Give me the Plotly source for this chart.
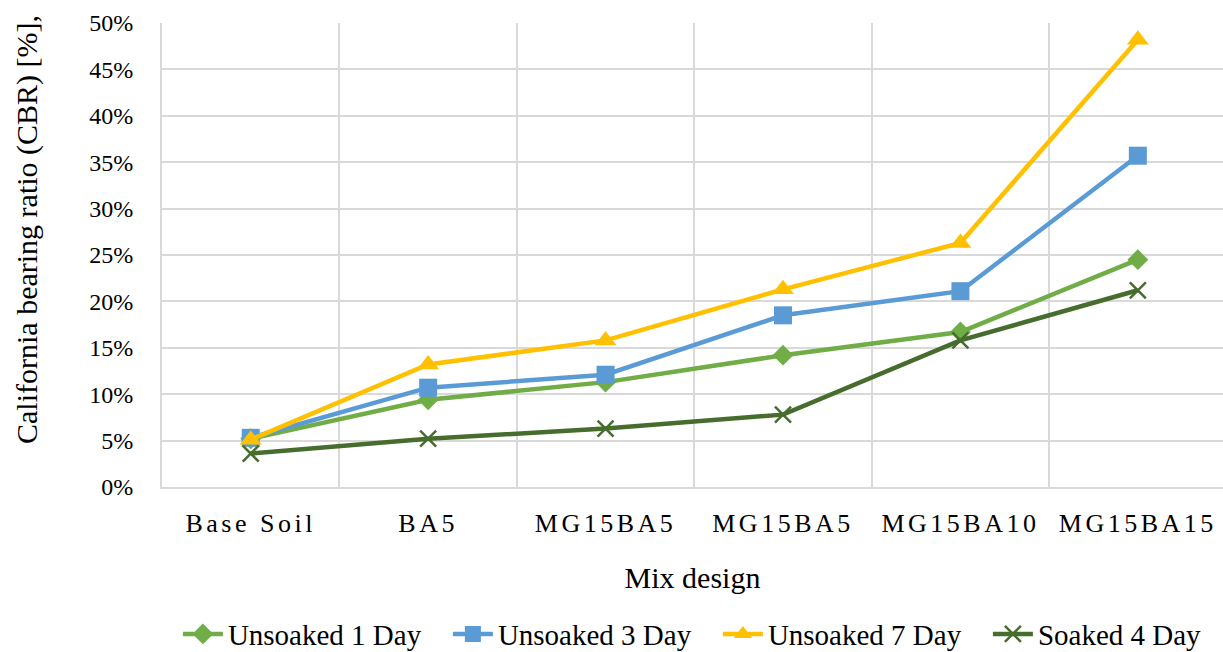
import plotly.graph_objects as go

# Mix designs along the x axis (two mixes share the same name, so positions are numeric)
mixes = ["Base Soil", "BA5", "MG15BA5", "MG15BA5", "MG15BA10", "MG15BA15"]
positions = list(range(len(mixes)))

# CBR values in percent
unsoaked_1 = [5.2, 9.4, 11.3, 14.2, 16.7, 24.5]
unsoaked_3 = [5.3, 10.7, 12.1, 18.5, 21.1, 35.7]
unsoaked_7 = [5.1, 13.2, 15.8, 21.3, 26.3, 48.2]
soaked_4 = [3.6, 5.2, 6.3, 7.8, 15.8, 21.2]

y_ticks = list(range(0, 51, 5))
y_tick_labels = [f"{v}%" for v in y_ticks]

FONT = "Liberation Serif, serif"
GRID = "#D9D9D9"

series = [
    ("Unsoaked 1 Day", unsoaked_1, "#70AD47", dict(symbol="diamond", size=16)),
    ("Unsoaked 3 Day", unsoaked_3, "#5B9BD5", dict(symbol="square", size=18)),
    ("Unsoaked 7 Day", unsoaked_7, "#FFC000", dict(symbol="triangle-up", size=19)),
    ("Soaked 4 Day", soaked_4, "#466D2D", dict(symbol="x-thin", size=16)),
]

fig = go.Figure()
for name, vals, color, mk in series:
    marker = dict(color=color, **mk)
    if mk["symbol"] == "x-thin":
        marker["line"] = dict(color=color, width=2.5)
    else:
        marker["line"] = dict(width=0)
    fig.add_trace(go.Scatter(
        x=positions, y=vals, name=name, mode="lines+markers",
        line=dict(color=color, width=4.5), marker=marker,
    ))

fig.update_layout(
    width=1223, height=652,
    margin=dict(l=162, r=0, t=23, b=165, autoexpand=False),
    paper_bgcolor="white", plot_bgcolor="white",
    font=dict(family=FONT, color="black"),
    showlegend=True,
    legend=dict(
        orientation="h", x=-0.0001, xanchor="left", xref="paper",
        y=-0.372, yanchor="bottom",
        font=dict(family=FONT, size=29, color="black"),
        indentation=16, entrywidth=199, entrywidthmode="pixels",
        itemwidth=40, tracegroupgap=0,
    ),
    xaxis=dict(
        tickmode="array", tickvals=positions, ticktext=mixes,
        range=[-0.5, 5.48], showgrid=False, zeroline=False,
        ticks="outside", ticklen=12, tickcolor="rgba(0,0,0,0)",
        tickfont=dict(family=FONT, size=26, color="black"),
        minor=dict(tick0=-0.5, dtick=1, showgrid=True, gridcolor=GRID, gridwidth=2),
        showline=True, linecolor=GRID, linewidth=2,
        title=dict(text="Mix design", font=dict(family=FONT, size=30, color="black"),
                   standoff=30),
    ),
    yaxis=dict(
        range=[0, 50], tickmode="array", tickvals=y_ticks, ticktext=y_tick_labels,
        showgrid=True, gridcolor=GRID, gridwidth=2,
        zeroline=False, showline=True, linecolor=GRID, linewidth=2,
        ticks="outside", ticklen=22, tickcolor="rgba(0,0,0,0)",
        tickfont=dict(family=FONT, size=24, color="black"),
    ),
    annotations=[dict(
        text="California bearing ratio (CBR) [%],",
        xref="paper", yref="paper",
        x=(27 - 162) / 1061, y=(487 - 230) / 464,
        xanchor="center", yanchor="middle", textangle=-90, showarrow=False,
        font=dict(family=FONT, size=30, color="black"),
    )],
)

# Spread the letters of the category labels
post = """
var gd = document.getElementById('{plot_id}');
function spaceLabels(){
  gd.querySelectorAll('.xtick text').forEach(function(t){ t.style.letterSpacing = '3.5px'; });
}
spaceLabels();
gd.on('plotly_afterplot', spaceLabels);
"""

fig.write_html("out.html", post_script=post)
